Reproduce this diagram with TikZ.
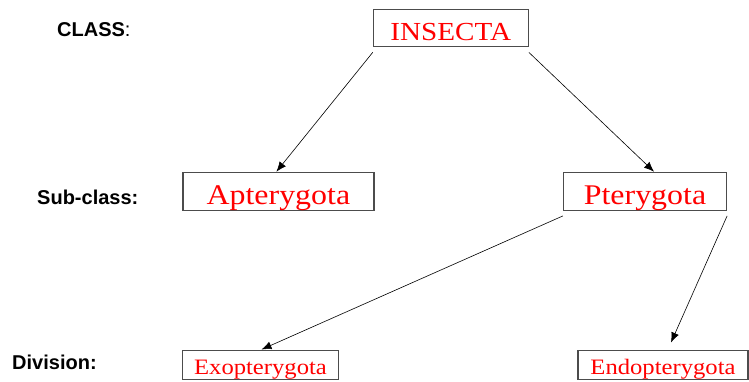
\documentclass[tikz,border=0pt]{standalone}
\usepackage{fontspec}
\setmainfont{Liberation Serif}
\newfontfamily\taxfont{Liberation Serif}[FakeStretch=1.12]
\newfontfamily\rankfont{Liberation Sans}
\usetikzlibrary{arrows.meta,positioning}

\begin{document}
\begin{tikzpicture}[x=1pt,y=-1pt,
    taxon/.style={draw=black!70,line width=1.2pt,inner sep=0pt,text=red,font=\taxfont,text depth=0pt},
    rank/.style={anchor=base west,inner sep=0pt,font=\rankfont\fontsize{20}{24}\selectfont},
    arr/.style={-{Latex[length=10pt,width=8pt]},line width=0.6pt}]
            \useasboundingbox (0,0) rectangle (749,381);
            % ranks
            \node[rank] (class) at (57,36.7) {\textbf{CLASS}:};
            \node[rank] (subclass) at (37,204) {\textbf{Sub-class:}};
            \node[rank] (division) at (12,369) {\textbf{Division:}};
            % taxa
            \node[taxon,minimum width=155pt,minimum height=37pt,text height=23.4pt,font=\taxfont\fontsize{26}{30}\selectfont] (insecta) at (450.8,28.3) {INSECTA};
            \node[taxon,minimum width=191pt,minimum height=38pt,text height=25.4pt,font=\taxfont\fontsize{28.5}{32}\selectfont] (apter) at (278.4,191.3) {Apterygota};
            \node[taxon,minimum width=163pt,minimum height=38pt,text height=25.4pt,font=\taxfont\fontsize{28.5}{32}\selectfont] (ptery) at (645,191.3) {Pterygota};
            \node[taxon,minimum width=156pt,minimum height=29pt,text height=18.8pt,font=\taxfont\fontsize{22}{26}\selectfont] (exo) at (260.5,364.6) {Exopterygota};
            \node[taxon,minimum width=170pt,minimum height=29pt,text height=18.8pt,font=\taxfont\fontsize{22}{26}\selectfont] (endo) at (663,364.6) {Endopterygota};
            \draw[arr]
            ([yshift=-5pt]insecta.south west) -- ([xshift=-2pt]apter.north);
            \draw[arr]
            ([yshift=-5pt]insecta.south east) -- ([xshift=9pt]ptery.north);
            \draw[arr]
            ([yshift=-5pt]ptery.south west) -- ([xshift=1pt]exo.north);
            \draw[arr]
            ([yshift=-5pt]ptery.south east) -- ([xshift=8pt,yshift=7pt]endo.north);
        \end{tikzpicture}
\end{document}
